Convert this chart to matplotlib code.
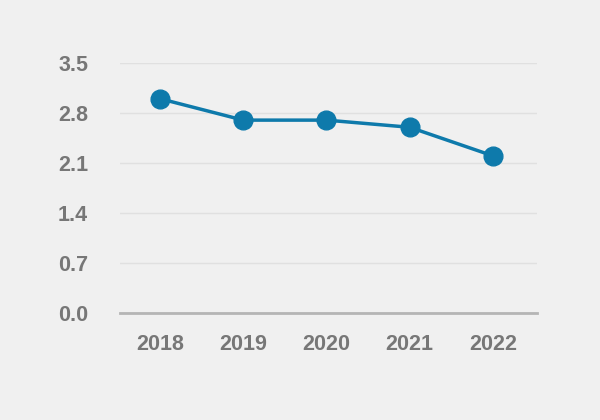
import matplotlib
matplotlib.use("Agg")
import matplotlib.pyplot as plt

years = ["2018", "2019", "2020", "2021", "2022"]
values = [3.0, 2.7, 2.7, 2.6, 2.2]
yticks = [0.0, 0.7, 1.4, 2.1, 2.8, 3.5]

bg = "#f0f0f0"
fig = plt.figure(figsize=(6, 4.2), dpi=100, facecolor=bg)
ax = fig.add_axes([0.2, 0.255, 0.695, 0.595], facecolor=bg)

x = list(range(len(years)))
ax.plot(x, values, color="#0e7aab", linewidth=2.5, marker="o", markersize=13.5, zorder=3)

ax.set_ylim(0, 3.5)
ax.set_xlim(-0.48, 4.53)
ax.set_yticks(yticks)
ax.set_yticklabels([f"{v:.1f}" for v in yticks])
ax.set_xticks(x)
ax.set_xticklabels(years)

font = ["Liberation Sans", "DejaVu Sans"]
for lab in ax.get_xticklabels() + ax.get_yticklabels():
    lab.set_family(font)
    lab.set_fontweight("bold")
    lab.set_fontsize(15.5)
    lab.set_color("#777777")

ax.grid(axis="y", color="#e0e0e0", linewidth=1)
ax.set_axisbelow(True)
for s in ["top", "right", "left"]:
    ax.spines[s].set_visible(False)
ax.spines["bottom"].set_color("#b5b5b5")
ax.spines["bottom"].set_linewidth(2)
ax.tick_params(axis="both", length=0)
ax.tick_params(axis="x", pad=15)
ax.tick_params(axis="y", pad=23)

fig.savefig("out.png", dpi=100, facecolor=bg)
